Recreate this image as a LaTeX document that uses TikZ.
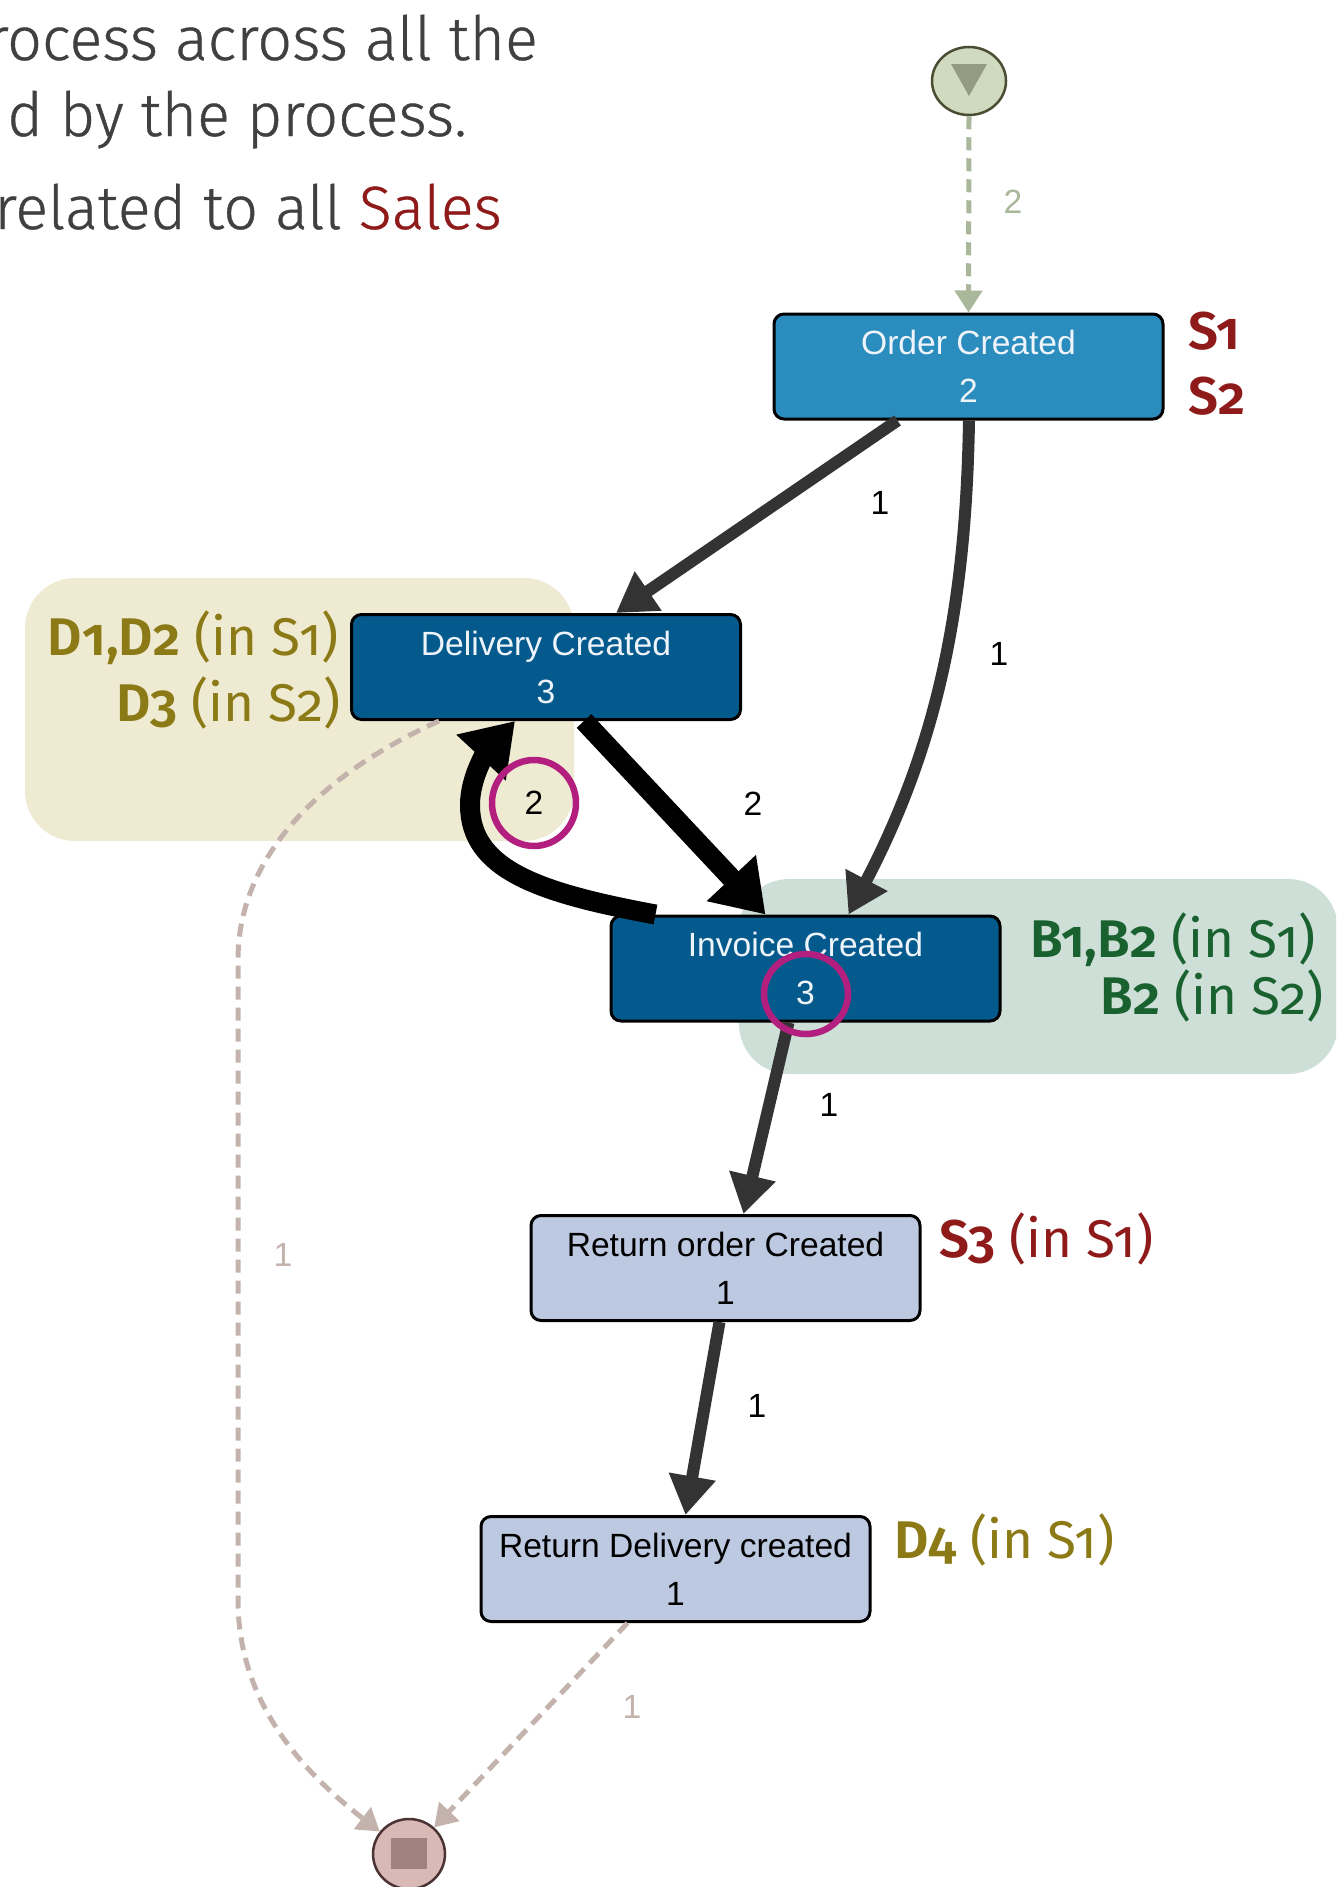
\documentclass[tikz,border=0pt]{standalone}
\usepackage{fontspec}
\setmainfont{Liberation Sans}
\newfontfamily\headfont{Fira Sans Light}[FakeBold=0.6]
\newfontfamily\annfont{Fira Sans}[Numbers=OldStyle, BoldFont={Fira Sans SemiBold}]
\usetikzlibrary{arrows.meta,calc,shapes.geometric}

\definecolor{orderblue}{HTML}{2B8CBE}
\definecolor{darkblue}{HTML}{045A8D}
\definecolor{lightblue}{HTML}{BDC9E1}
\definecolor{paletext}{HTML}{EEF4FA}
\definecolor{edgegray}{HTML}{333333}
\definecolor{startfill}{HTML}{D0DABF}
\definecolor{startline}{HTML}{4B4D33}
\definecolor{starttri}{HTML}{939B80}
\definecolor{startedge}{HTML}{A9B79A}
\definecolor{endfill}{HTML}{D9B9B6}
\definecolor{endline}{HTML}{4B3333}
\definecolor{endsq}{HTML}{A0817E}
\definecolor{endedge}{HTML}{C4B3AC}
\definecolor{yellowbg}{HTML}{EFEBD3}
\definecolor{greenbg}{HTML}{CDDFD7}
\definecolor{olivetext}{HTML}{8B7A16}
\definecolor{salesred}{HTML}{8E1A1A}
\definecolor{bgreen}{HTML}{1A6130}
\definecolor{headgray}{HTML}{404040}
\definecolor{hilite}{HTML}{B31F7F}

\tikzset{
  x=1pt, y=-1pt,
  activity/.style={draw=black, line width=3pt, rounded corners=10pt,
    minimum width=389pt, minimum height=105pt, inner sep=0pt, align=center,
    font={\fontsize{33.6pt}{48pt}\selectfont}},
  darkact/.style={activity, fill=darkblue, text=paletext},
  lightact/.style={activity, fill=lightblue, text=black},
  flow/.style={draw=edgegray, line width=12pt, -{Triangle[length=39pt,width=45pt]}},
  heavy/.style={draw=black, line width=20pt, -{Triangle[length=50pt,width=64pt]}},
  startflow/.style={draw=startedge, line width=5pt, dash pattern=on 13pt off 8pt,
    -{Triangle[length=22pt,width=27pt]}},
  endflow/.style={draw=endedge, line width=5pt, dash pattern=on 13pt off 8pt,
    -{Triangle[length=22pt,width=27pt]}},
  elabel/.style={inner sep=0pt, font={\fontsize{33.6pt}{40pt}\selectfont}},
  ann/.style={inner sep=0pt, font={\annfont\fontsize{53pt}{60pt}\selectfont}},
  headline/.style={inner sep=0pt, text=headgray, anchor=base east,
    font={\headfont\fontsize{61pt}{74pt}\selectfont}},
  ring/.style={draw=hilite, line width=6.5pt, ellipse, inner sep=0pt},
}

\begin{document}
\begin{tikzpicture}
\clip (0,0) rectangle (1336,1887);
\useasboundingbox (0,0) rectangle (1336,1887);
\fill[white] (0,0) rectangle (1336,1887);

% explanatory text
\node[headline] (h1) at (538,60) {rocess across all the};
\node[headline] (h2) at (467,136) {d by the process.};
\node[headline] (h3) at (502,229) {related to all {\color{salesred}Sales}};

% shaded groups
\fill[yellowbg, rounded corners=50pt] (25,578) rectangle (574,841);
\fill[greenbg, rounded corners=50pt] (739,879) rectangle (1338,1074);

% start and end events
\node[ellipse, draw=startline, fill=startfill, line width=2.5pt,
      minimum width=74pt, minimum height=68pt, inner sep=0pt] (start) at (969,81) {};
\fill[starttri] ($(start)+(-18,-17)$) -- ($(start)+(18,-17)$) -- ($(start)+(0,15)$) -- cycle;
\node[ellipse, draw=endline, fill=endfill, line width=2.5pt,
      minimum width=72pt, minimum height=70pt, inner sep=0pt] (end) at (409,1854) {};
\fill[endsq] ($(end)+(-18,-16)$) rectangle ($(end)+(18,15)$);

% activities
\node[activity, fill=orderblue, text=paletext] (order) at (968.5,366.5) {Order Created\\2};
\node[darkact] (delivery) at (546,667) {Delivery Created\\3};
\node[darkact] (invoice) at (805.5,968.5) {Invoice Created\\3};
\node[lightact] (retorder) at (725.5,1268) {Return order Created\\1};
\node[lightact] (retdel) at (675.5,1569) {Return Delivery created\\1};

% flows
\draw[startflow] (start.south) -- (order.north);
\draw[flow] ($(order.south)+(-71,0)$) -- ($(delivery.north)+(70,0)$);
\draw[flow] ($(order.south)+(0.5,0)$) .. controls (966,600) and (940,740) .. ($(invoice.north)+(43,0)$);
\draw[heavy] ($(delivery.south)+(38,0)$) -- ($(invoice.north)+(-40,0)$);
\draw[heavy] ($(invoice.north)+(-150,0)$) .. controls (540,893) and (470,870) .. (470,805)
   .. controls (470,775) and (489,749) .. ($(delivery.south)+(-31,0)$);
\draw[flow] ($(invoice.south)+(-17,0)$) -- ($(retorder.north)+(18,0)$);
\draw[flow] ($(retorder.south)+(-6,0)$) -- ($(retdel.north)+(10,0)$);
\draw[endflow] ($(delivery.south)+(-107,0)$) .. controls (330,770) and (238,850) .. (238,960)
   -- (238,1600) .. controls (238,1700) and (300,1770) .. (end);
\draw[endflow] ($(retdel.south)+(-48,0)$) -- (end);

% flow frequencies
\node[elabel, text=startedge] (f0) at (1013,202) {2};
\node[elabel] (f1) at (880,503) {1};
\node[elabel] (f2) at (999,654) {1};
\node[elabel] (f3) at (753,804) {2};
\node[elabel] (f4) at (534,803) {2};
\node[elabel] (f5) at (829,1105) {1};
\node[elabel] (f6) at (757,1406) {1};
\node[elabel, text=endedge] (f7) at (283,1255) {1};
\node[elabel, text=endedge] (f8) at (632,1707) {1};

% highlighted counts
\node[ring, minimum width=84pt, minimum height=86pt] (ring1) at (534,803) {};
\node[ring, minimum width=84pt, minimum height=80pt] (ring2) at (806,994) {};

% document annotations
\node[ann, text=salesred, anchor=base west] (s1) at (1188,349) {\bfseries S1};
\node[ann, text=salesred, anchor=base west] (s2) at (1188,414) {\bfseries S2};
\node[ann, text=olivetext, anchor=base east] (d12) at (339,655) {{\bfseries D1,D2} (in S1)};
\node[ann, text=olivetext, anchor=base east] (d3) at (341,721) {{\bfseries D3} (in S2)};
\node[ann, text=bgreen, anchor=base east] (b12) at (1316,957) {{\bfseries B1,B2} (in S1)};
\node[ann, text=bgreen, anchor=base east] (b2) at (1324,1014) {{\bfseries B2} (in S2)};
\node[ann, text=salesred, anchor=base west] (s3) at (939,1257) {{\bfseries S3} (in S1)};
\node[ann, text=olivetext, anchor=base west] (d4) at (894,1558) {{\bfseries D4} (in S1)};
\end{tikzpicture}
\end{document}
